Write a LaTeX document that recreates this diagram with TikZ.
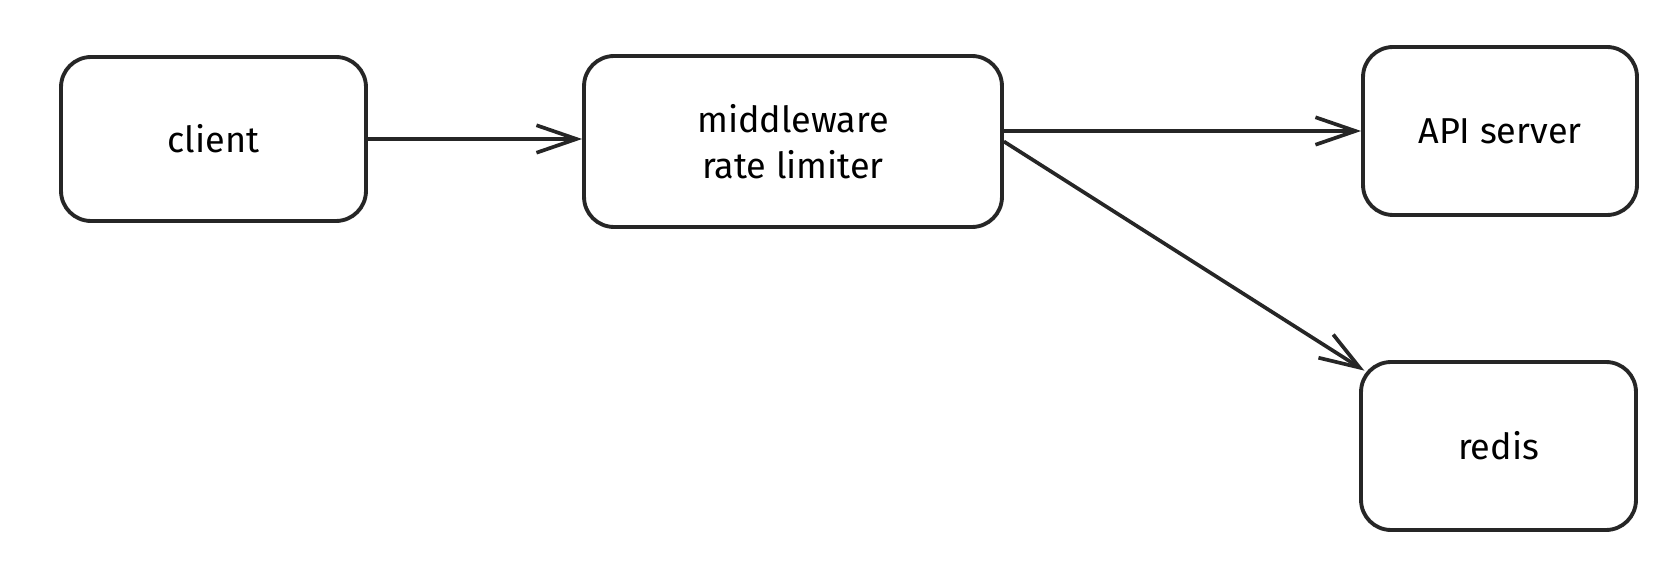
\documentclass[tikz,border=0pt]{standalone}
\usepackage{fontspec}
\setmainfont{Fira Sans}
\usetikzlibrary{arrows.meta}

\begin{document}
\begin{tikzpicture}[x=0.02cm, y=-0.02cm,
      every node/.style={font=\fontsize{20.5}{26}\selectfont},
      box/.style={draw=black!85, line width=2.2pt, rounded corners=0.6cm,
                  align=center, inner sep=0pt},
      link/.style={draw=black!85, line width=2.1pt,
                   -{Straight Barb[length=8mm, width=5.5mm, line width=2.1pt]}}]
    \useasboundingbox (0,0) rectangle (1680,574);
    \node[box, minimum width=6.1cm, minimum height=3.28cm] (client) at (213.5,139) {client};
    \node[box, minimum width=8.36cm, minimum height=3.42cm] (limiter) at (793,141.5) {middleware\\rate limiter};
    \node[box, minimum width=5.48cm, minimum height=3.36cm] (api) at (1500,131) {API server};
    \node[box, minimum width=5.5cm, minimum height=3.36cm] (redis) at (1498.5,446) {redis};
    \draw[link] (client.east) -- (limiter.west |- client.east);
    \draw[link] (limiter.east |- api.west) -- (api.west);
    \draw[link] (limiter.east) -- ([xshift=3pt, yshift=-6pt]redis.north west);
  \end{tikzpicture}
\end{document}
